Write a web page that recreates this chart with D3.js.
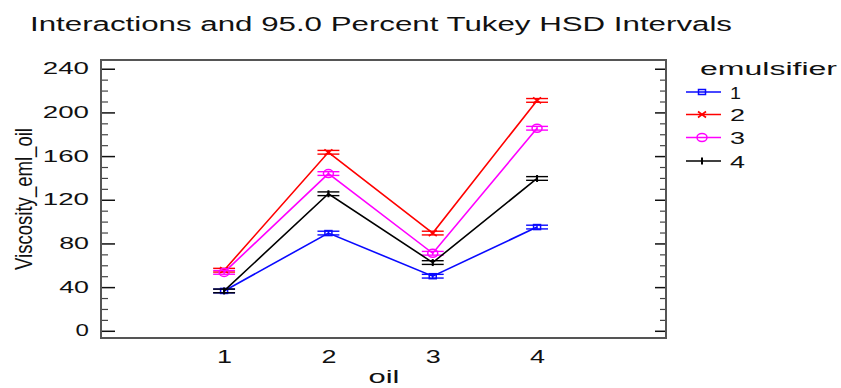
<!DOCTYPE html>
<html>
<head>
<meta charset="utf-8">
<script src="https://cdn.jsdelivr.net/npm/d3@7/dist/d3.min.js"></script>
<style>
  html, body { margin: 0; padding: 0; background: #fff; }
  svg { display: block; font-family: "Liberation Sans", Arial, sans-serif; }
</style>
</head>
<body>
<svg id="chart" width="841" height="388"></svg>
<script>
// Cell means of viscosity for each oil level, one array per emulsifier
const oilLevels = [1, 2, 3, 4];
const emulsifiers = ["1", "2", "3", "4"];
const emul1 = [36.5, 89.5, 50.0, 95.0];
const emul2 = [55.5, 163.5, 89.5, 211.0];
const emul3 = [53.5, 144.0, 71.0, 185.5];
const emul4 = [36.5, 125.5, 62.5, 139.5];
// Half-width of the Tukey HSD interval around each mean
const hsdHalf = 1.7;
const yTicks = [0, 40, 80, 120, 160, 200, 240];
const yMinorTicks = d3.range(0, 241, 10).filter(v => v % 40 !== 0);

const seriesValues = [emul1, emul2, emul3, emul4];
const colors = ["#0a0aff", "#ff0000", "#ff00ff", "#000000"];
const markerTypes = ["square", "cross", "circle", "tick"];

const svg = d3.select("#chart");
const frame = { left: 101, right: 666, top: 60, bottom: 338 };

const x = d3.scaleLinear().domain([-0.18, 5.236]).range([frame.left, frame.right]);
const y = d3.scaleLinear().domain([-6.6, 248]).range([frame.bottom, frame.top]);

// Title
svg.append("text")
  .attr("x", 30).attr("y", 31)
  .attr("font-size", 20).attr("fill", "#111")
  .attr("textLength", 702).attr("lengthAdjust", "spacingAndGlyphs")
  .text("Interactions and 95.0 Percent Tukey HSD Intervals");

// Y axis (left): major ticks pointing inward, labels outside
const yAxisL = svg.append("g")
  .attr("transform", `translate(${frame.left},0)`)
  .call(d3.axisLeft(y).tickValues(yTicks).tickSizeInner(-14).tickSizeOuter(0).tickPadding(12));
yAxisL.select(".domain").remove();
yAxisL.selectAll(".tick line").attr("stroke", "#111").attr("stroke-width", 1.5);
yAxisL.selectAll(".tick text")
  .attr("font-size", 16).attr("fill", "#111")
  .attr("font-family", "'Liberation Sans', Arial, sans-serif")
  .each(function (d) {
    const n = String(d).length;
    d3.select(this).attr("textLength", n * 16.4 - 3).attr("lengthAdjust", "spacingAndGlyphs");
  });

// Minor ticks left
svg.append("g")
  .attr("transform", `translate(${frame.left},0)`)
  .call(d3.axisLeft(y).tickValues(yMinorTicks).tickSizeInner(-7).tickSizeOuter(0).tickFormat(""))
  .call(g => g.select(".domain").remove())
  .selectAll(".tick line").attr("stroke", "#444").attr("stroke-width", 1.2);

// Right side ticks, pointing inward
svg.append("g")
  .attr("transform", `translate(${frame.right},0)`)
  .call(d3.axisRight(y).tickValues(yTicks).tickSizeInner(-11).tickSizeOuter(0).tickFormat(""))
  .call(g => g.select(".domain").remove())
  .selectAll(".tick line").attr("stroke", "#111").attr("stroke-width", 1.5);
svg.append("g")
  .attr("transform", `translate(${frame.right},0)`)
  .call(d3.axisRight(y).tickValues(yMinorTicks).tickSizeInner(-6).tickSizeOuter(0).tickFormat(""))
  .call(g => g.select(".domain").remove())
  .selectAll(".tick line").attr("stroke", "#444").attr("stroke-width", 1.2);

// X axis labels (no tick marks)
const xAxis = svg.append("g")
  .attr("transform", `translate(0,${frame.bottom})`)
  .call(d3.axisBottom(x).tickValues(oilLevels).tickSize(0).tickPadding(12).tickFormat(d => String(d)));
xAxis.select(".domain").remove();
xAxis.selectAll(".tick text")
  .attr("font-size", 19).attr("fill", "#111")
  .attr("font-family", "'Liberation Sans', Arial, sans-serif")
  .attr("textLength", 15).attr("lengthAdjust", "spacingAndGlyphs");

// Frame
svg.append("rect")
  .attr("x", frame.left).attr("y", frame.top)
  .attr("width", frame.right - frame.left).attr("height", frame.bottom - frame.top)
  .attr("fill", "none").attr("stroke", "#555").attr("stroke-width", 2);

// Axis titles
svg.append("text")
  .attr("x", 384).attr("y", 383)
  .attr("text-anchor", "middle").attr("font-size", 19).attr("fill", "#111")
  .attr("textLength", 31).attr("lengthAdjust", "spacingAndGlyphs")
  .text("oil");

svg.append("text")
  .attr("transform", "translate(32,199) rotate(-90)")
  .attr("text-anchor", "middle").attr("font-size", 24).attr("fill", "#111")
  .attr("textLength", 142).attr("lengthAdjust", "spacingAndGlyphs")
  .text("Viscosity_eml_oil");

// Marker drawing
function drawMarker(g, type, color, cx, cy) {
  if (type === "square") {
    g.append("rect").attr("x", cx - 3.5).attr("y", cy - 2.5).attr("width", 7).attr("height", 5)
      .attr("fill", "none").attr("stroke", color).attr("stroke-width", 1.5);
  } else if (type === "cross") {
    g.append("path").attr("d", `M${cx - 4},${cy - 3}L${cx + 4},${cy + 3}M${cx - 4},${cy + 3}L${cx + 4},${cy - 3}`)
      .attr("stroke", color).attr("stroke-width", 1.6).attr("fill", "none");
  } else if (type === "circle") {
    g.append("ellipse").attr("cx", cx).attr("cy", cy).attr("rx", 5).attr("ry", 4)
      .attr("fill", "none").attr("stroke", color).attr("stroke-width", 1.5);
  } else {
    g.append("line").attr("x1", cx).attr("x2", cx).attr("y1", cy - 3.5).attr("y2", cy + 3.5)
      .attr("stroke", color).attr("stroke-width", 2);
  }
}

// Lines, intervals and markers per emulsifier
const line = d3.line().x((d, i) => x(oilLevels[i])).y(d => y(d));
const capHalf = 0.105; // half width of interval caps in oil units

seriesValues.forEach((vals, si) => {
  const color = colors[si];
  const g = svg.append("g");
  g.append("path").datum(vals).attr("d", line)
    .attr("fill", "none").attr("stroke", color).attr("stroke-width", 1.6);
  vals.forEach((v, i) => {
    const xi = oilLevels[i];
    [v - hsdHalf, v + hsdHalf].forEach(b => {
      g.append("line")
        .attr("x1", x(xi - capHalf)).attr("x2", x(xi + capHalf))
        .attr("y1", y(b)).attr("y2", y(b))
        .attr("stroke", color).attr("stroke-width", 1.4);
    });
    g.append("line")
      .attr("x1", x(xi)).attr("x2", x(xi))
      .attr("y1", y(v - hsdHalf)).attr("y2", y(v + hsdHalf))
      .attr("stroke", color).attr("stroke-width", 1.4);
    drawMarker(g, markerTypes[si], color, x(xi), y(v));
  });
});

// Legend
const legend = svg.append("g");
legend.append("text")
  .attr("x", 700).attr("y", 75)
  .attr("font-size", 18).attr("fill", "#111")
  .attr("textLength", 137).attr("lengthAdjust", "spacingAndGlyphs")
  .text("emulsifier");
const legendY = [92, 114.5, 137.5, 161];
emulsifiers.forEach((name, i) => {
  const ly = legendY[i];
  legend.append("line").attr("x1", 686).attr("x2", 721).attr("y1", ly).attr("y2", ly)
    .attr("stroke", colors[i]).attr("stroke-width", 1.5);
  drawMarker(legend, markerTypes[i], colors[i], 702, ly);
  legend.append("text")
    .attr("x", 730).attr("y", ly + 6.5)
    .attr("font-size", 17).attr("fill", "#111")
    .attr("textLength", name === "1" ? 11 : 15).attr("lengthAdjust", "spacingAndGlyphs")
    .text(name);
});
</script>
</body>
</html>
